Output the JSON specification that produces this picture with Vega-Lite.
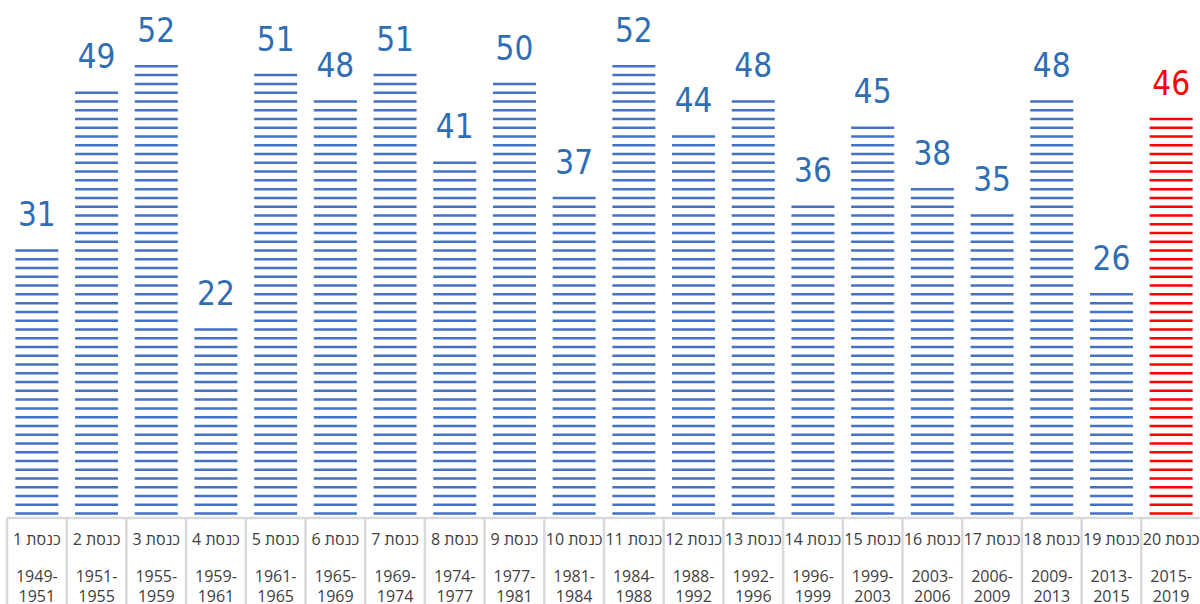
{
  "$schema": "https://vega.github.io/schema/vega-lite/v6.json",
  "width": 1194,
  "height": 604,
  "padding": {"left": 7, "top": 0, "right": 0, "bottom": 0},
  "autosize": {"type": "none"},
  "background": "white",
  "config": {"view": {"stroke": null}},
  "data": {
    "values": [
      {"n": 1, "k": "1 כנסת", "period": "1949-1951", "v": 31},
      {"n": 2, "k": "2 כנסת", "period": "1951-1955", "v": 49},
      {"n": 3, "k": "3 כנסת", "period": "1955-1959", "v": 52},
      {"n": 4, "k": "4 כנסת", "period": "1959-1961", "v": 22},
      {"n": 5, "k": "5 כנסת", "period": "1961-1965", "v": 51},
      {"n": 6, "k": "6 כנסת", "period": "1965-1969", "v": 48},
      {"n": 7, "k": "7 כנסת", "period": "1969-1974", "v": 51},
      {"n": 8, "k": "8 כנסת", "period": "1974-1977", "v": 41},
      {"n": 9, "k": "9 כנסת", "period": "1977-1981", "v": 50},
      {"n": 10, "k": "10 כנסת", "period": "1981-1984", "v": 37},
      {"n": 11, "k": "11 כנסת", "period": "1984-1988", "v": 52},
      {"n": 12, "k": "12 כנסת", "period": "1988-1992", "v": 44},
      {"n": 13, "k": "13 כנסת", "period": "1992-1996", "v": 48},
      {"n": 14, "k": "14 כנסת", "period": "1996-1999", "v": 36},
      {"n": 15, "k": "15 כנסת", "period": "1999-2003", "v": 45},
      {"n": 16, "k": "16 כנסת", "period": "2003-2006", "v": 38},
      {"n": 17, "k": "17 כנסת", "period": "2006-2009", "v": 35},
      {"n": 18, "k": "18 כנסת", "period": "2009-2013", "v": 48},
      {"n": 19, "k": "19 כנסת", "period": "2013-2015", "v": 26},
      {"n": 20, "k": "20 כנסת", "period": "2015-2019", "v": 46}
    ]
  },
  "encoding": {
    "x": {"field": "k", "type": "nominal", "sort": {"field": "n"}, "axis": null,
          "scale": {"paddingInner": 0, "paddingOuter": 0}}
  },
  "layer": [
    {
      "mark": {"type": "rule", "strokeWidth": 43, "strokeDash": [2.5, 6.27], "strokeDashOffset": 5.635, "strokeCap": "butt"},
      "encoding": {
        "y": {"field": "v", "type": "quantitative", "axis": null, "scale": {"domain": [-9.806, 59.065], "nice": false, "zero": false}},
        "y2": {"datum": 0},
        "color": {"condition": {"test": "datum.n == 20", "value": "#FF0000"}, "value": "#4472C4"}
      }
    },
    {
      "mark": {"type": "text", "font": "DejaVu Sans Condensed, Roboto, sans-serif", "fontSize": 33, "baseline": "alphabetic", "dy": -20},
      "encoding": {
        "y": {"field": "v", "type": "quantitative", "axis": null, "scale": {"domain": [-9.806, 59.065], "nice": false, "zero": false}},
        "text": {"field": "v", "type": "quantitative"},
        "color": {"condition": {"test": "datum.n == 20", "value": "#FF0000"}, "value": "#2F6DB5"}
      }
    },
    {
      "mark": {"type": "rule", "color": "#D9D9D9", "strokeWidth": 2.5},
      "encoding": {
        "x": {"field": "k", "type": "nominal", "sort": {"field": "n"}, "bandPosition": 0},
        "y": {"datum": 0, "type": "quantitative", "axis": null, "scale": {"domain": [-9.806, 59.065], "nice": false, "zero": false}},
        "y2": {"datum": -9.806}
      }
    },
    {
      "data": {"values": [{"edge": "top"}]},
      "mark": {"type": "rule", "color": "#D9D9D9", "strokeWidth": 2.5},
      "encoding": {
        "x": null,
        "y": {"datum": 0, "type": "quantitative", "axis": null, "scale": {"domain": [-9.806, 59.065], "nice": false, "zero": false}}
      }
    },
    {
      "mark": {"type": "text", "font": "Open Sans", "fontSize": 16, "baseline": "middle", "color": "#404040"},
      "encoding": {
        "y": {"datum": -2.51, "type": "quantitative", "axis": null, "scale": {"domain": [-9.806, 59.065], "nice": false, "zero": false}},
        "text": {"field": "k", "type": "nominal"}
      }
    },
    {
      "transform": [{"calculate": "[substring(datum.period, 0, 5), substring(datum.period, 5)]", "as": "lines"}],
      "mark": {"type": "text", "font": "Open Sans", "fontSize": 16, "baseline": "middle", "lineHeight": 20, "color": "#404040"},
      "encoding": {
        "y": {"datum": -6.73, "type": "quantitative", "axis": null, "scale": {"domain": [-9.806, 59.065], "nice": false, "zero": false}},
        "text": {"field": "lines", "type": "nominal"}
      }
    }
  ]
}
